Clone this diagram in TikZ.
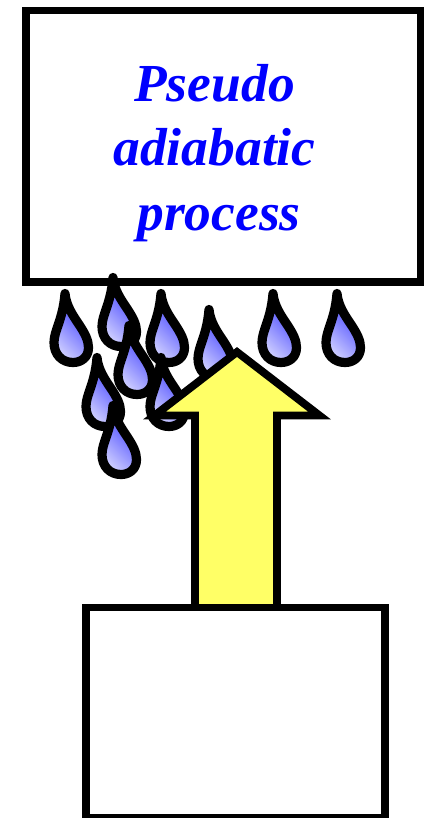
\documentclass[tikz,border=0pt]{standalone}
\usepackage{fontspec}
\setmainfont{Liberation Serif}
\definecolor{dropdeep}{HTML}{3434FF}
\definecolor{droppale}{HTML}{D0D0FF}
\definecolor{arrowyellow}{HTML}{FFFF66}
\definecolor{labelblue}{HTML}{0000FF}
\tikzset{
  boxline/.style={draw=black,line width=7.8pt,fill=white,line join=miter},
  labeltext/.style={anchor=base,inner sep=0pt,outer sep=0pt,text=labelblue,font=\fontsize{53.5}{64}\selectfont\bfseries\itshape},
  dropshape/.style={draw=black,line width=9.2pt,line join=round,line cap=round,
    shading=axis,left color=dropdeep,right color=droppale,shading angle=-45},
  arrowshape/.style={draw=black,line width=7.8pt,fill=arrowyellow,line join=miter}
}
\newcommand{\raindrop}[2]{%
  \path[dropshape,shift={(#1,#2)}] (0,0)
    .. controls (1,12) and (8,22) .. (14,31)
    .. controls (20,40) and (23.5,47) .. (23.5,54)
    .. controls (23.5,64) and (16,69) .. (8,69)
    .. controls (-3,69) and (-11,61) .. (-11,49)
    .. controls (-11,37) and (-2,26) .. cycle;}
\begin{document}
\begin{tikzpicture}[x=1pt,y=-1pt]
\useasboundingbox (0,0) rectangle (425,818);
\fill[white] (0,0) rectangle (425,818);
\draw[boxline] (25.7,10.5) rectangle (420.5,282);
\node[labeltext] (l1) at (214.5,101.7) {Pseudo};
\node[labeltext] (l2) at (214.5,166) {adiabatic};
\node[labeltext] (l3) at (219,230) {process};
\raindrop{65}{293.5}
\raindrop{113}{277.5}
\raindrop{161}{293.5}
\raindrop{209}{309.5}
\raindrop{273}{293.5}
\raindrop{337}{293.5}
\raindrop{129}{325.5}
\raindrop{161}{357.5}
\raindrop{97}{357.5}
\raindrop{113}{405.5}
\draw[arrowshape] (237,352) -- (319.5,415.5) -- (277,415.5) -- (277,608) -- (195,608) -- (195,415.5) -- (154.5,415.5) -- cycle;
\draw[boxline] (86.3,607.5) rectangle (385,818);
\end{tikzpicture}
\end{document}
